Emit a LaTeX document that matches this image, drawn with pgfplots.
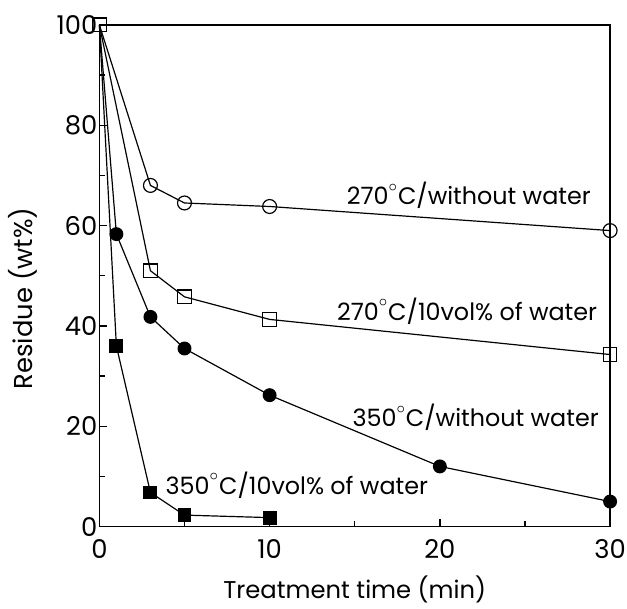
\documentclass[border=0pt]{standalone}
\usepackage{pgfplots}
\pgfplotsset{compat=1.18}
\usepackage{fontspec}
\setmainfont{Poppins}

\newcommand{\dg}{\raisebox{0.35ex}{$^{\circ}$}}

\begin{document}
\begin{tikzpicture}
\begin{axis}[
    name=main,
    scale only axis,
    width=257pt, height=252.5pt,
    xmin=0, xmax=30, ymin=0, ymax=100,
    xtick={0,10,20,30}, ytick={0,20,40,60,80,100},
    minor xtick={5,15,25}, minor ytick={10,30,50,70,90},
    tick pos=left, tick align=inside,
    major tick length=4pt, minor tick length=3pt,
    axis line style={line width=0.8pt},
    every tick/.style={black, line width=0.7pt},
    /pgf/number format/assume math mode=true,
    ticklabel style={font=\fontsize{13}{15}\selectfont},
    xticklabel style={yshift=-3pt},
    yticklabel style={xshift=2.5pt},
    xlabel={Treatment time (min)},
    ylabel={Residue (wt\%)},
    xlabel style={font=\fontsize{12.2}{14}\selectfont, at={(axis description cs:0.5,-0.126)}, anchor=center},
    ylabel style={font=\fontsize{13}{15}\selectfont, at={(axis description cs:-0.15,0.455)}, anchor=center},
    clip=false,
    every axis plot/.append style={black, line width=0.6pt},
]
% 350 C / 10 vol% water
\addplot[mark=square*, mark size=3.2pt, mark indices={2,3,4,5}] coordinates {
(0,100) (1,36) (3,6.8) (5,2.3) (10,1.8)};
% 350 C / without water
\addplot[mark=*, mark size=3.2pt, mark indices={2,3,4,5,6,7}] coordinates {
(0,100) (1,58.3) (3,41.8) (5,35.5) (10,26.2) (20,12) (30,5)};
% 270 C / without water
\addplot[mark=o, mark size=3.5pt, mark options={fill=white}, mark indices={2,3,4,5}] coordinates {
(0,100) (3,68) (5,64.5) (10,63.8) (30,59)};
% 270 C / 10 vol% water
\addplot[mark=square, mark size=3.4pt, mark options={fill=white}] coordinates {
(0,100) (3,51) (5,45.8) (10,41.3) (30,34.3)};

\node[font=\fontsize{12}{14}\selectfont] at (axis cs:21.7,66) {270\dg C/without water};
\node[font=\fontsize{12}{14}\selectfont] at (axis cs:21.6,43) {270\dg C/10vol\% of water};
\node[font=\fontsize{12}{14}\selectfont] at (axis cs:22.1,21.8) {350\dg C/without water};
\node[font=\fontsize{12}{14}\selectfont] at (axis cs:11.6,8.3) {350\dg C/10vol\% of water};
\end{axis}
\pgfresetboundingbox
\path[use as bounding box] ([xshift=-50pt,yshift=-41pt]main.south west) rectangle ([xshift=8.5pt,yshift=12.5pt]main.north east);
\end{tikzpicture}
\end{document}
